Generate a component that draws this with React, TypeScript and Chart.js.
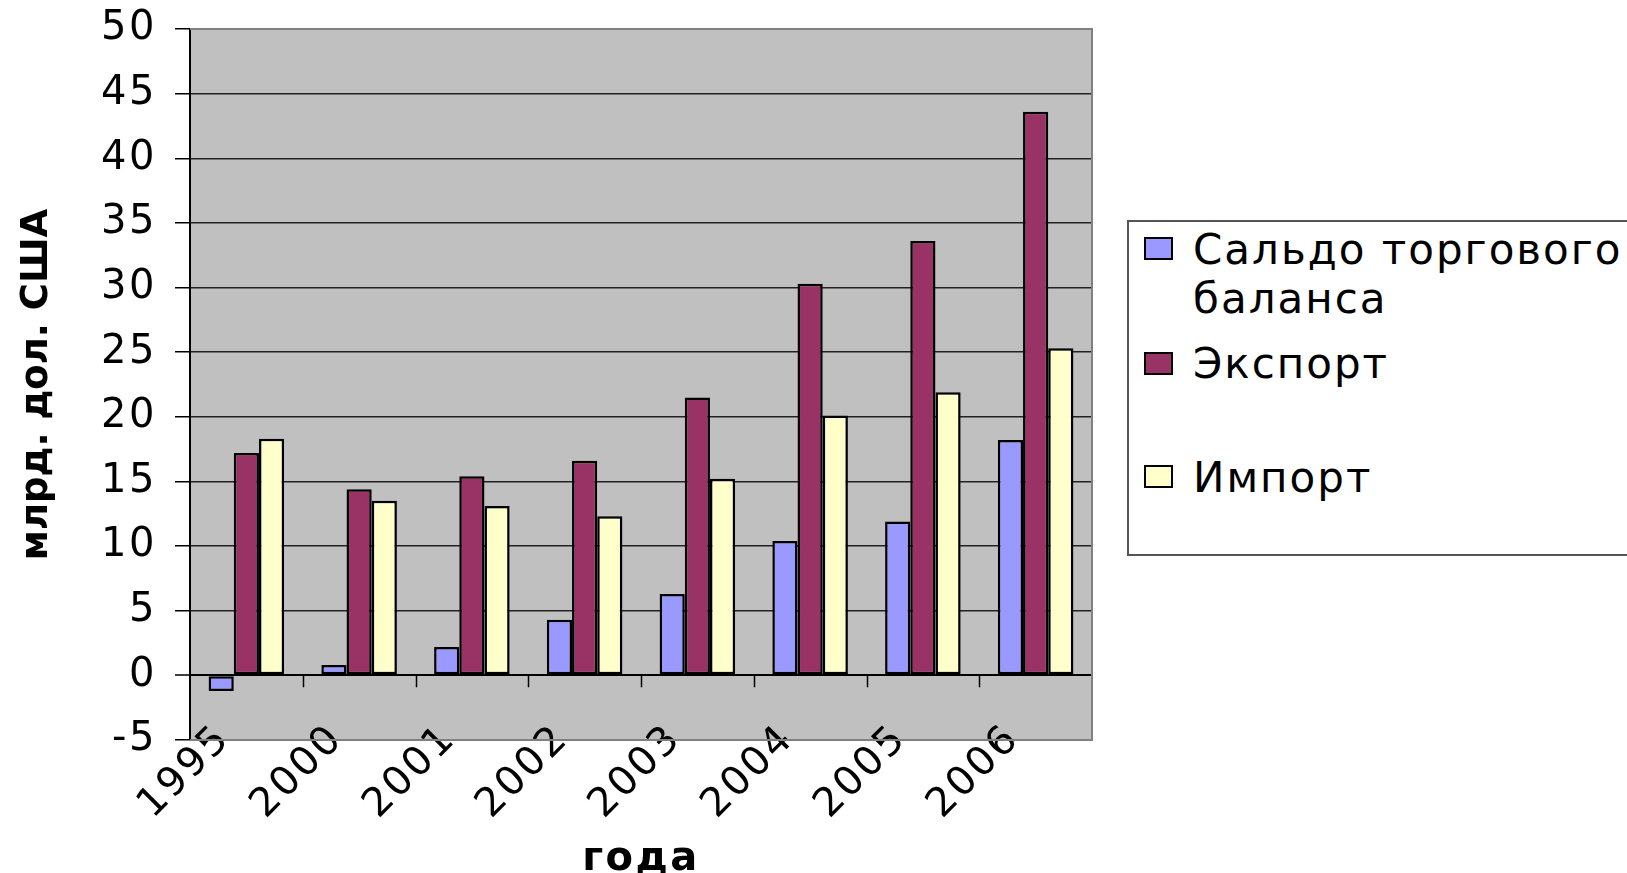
import React, { useEffect, useRef } from "react";
import { Chart, registerables } from "chart.js";

Chart.register(...registerables);

const categories = ["1995", "2000", "2001", "2002", "2003", "2004", "2005", "2006"];
const saldo = [-1.2, 0.8, 2.2, 4.3, 6.3, 10.4, 11.9, 18.2];
const exportVals = [17.2, 14.4, 15.4, 16.6, 21.5, 30.3, 33.6, 43.6];
const importVals = [18.3, 13.5, 13.1, 12.3, 15.2, 20.1, 21.9, 25.3];
const seriesNames = ["Сальдо торгового баланса", "Экспорт", "Импорт"];
const seriesColors = ["#9999FF", "#993366", "#FFFFCC"];
const yMin = -5;
const yMax = 50;
const yStep = 5;
const yTitle = "млрд. дол. США";
const xTitle = "года";

const FONT = "'DejaVu Sans', Verdana, sans-serif";
const SPACING = "2.5px";

const spacingPlugin = {
  id: "spacing",
  beforeUpdate(chart: any) {
    chart.ctx.letterSpacing = SPACING;
  },
  beforeLayout(chart: any) {
    chart.ctx.letterSpacing = SPACING;
  },
  beforeDraw(chart: any) {
    chart.ctx.letterSpacing = SPACING;
  },
};

const plotPlugin = {
  id: "plotBg",
  beforeDraw(chart: any) {
    const { ctx, chartArea: a } = chart;
    ctx.save();
    ctx.fillStyle = "#C0C0C0";
    ctx.fillRect(a.left, a.top, a.right - a.left, a.bottom - a.top);
    ctx.restore();
  },
  beforeDatasetsDraw(chart: any) {
    const { ctx, chartArea: a, scales } = chart;
    ctx.save();
    ctx.strokeStyle = "#808080";
    ctx.lineWidth = 2;
    ctx.beginPath();
    ctx.moveTo(a.left, a.top);
    ctx.lineTo(a.right, a.top);
    ctx.lineTo(a.right, a.bottom);
    ctx.lineTo(a.left, a.bottom);
    ctx.stroke();
    const xs = scales.x;
    const y0 = scales.y.getPixelForValue(0);
    ctx.strokeStyle = "#000";
    ctx.lineWidth = 1.5;
    ctx.beginPath();
    for (let i = 1; i < categories.length; i++) {
      const px = Math.round(xs.getPixelForValue(i - 0.5)) + 0.5;
      ctx.moveTo(px, y0);
      ctx.lineTo(px, y0 + 12);
    }
    ctx.stroke();
    ctx.restore();
  },
};

function ChartView() {
  const ref = useRef<HTMLCanvasElement | null>(null);
  useEffect(() => {
    if (!ref.current) return;
    const values = [saldo, exportVals, importVals];
    const chart = new Chart(ref.current, {
      type: "bar",
      data: {
        labels: categories,
        datasets: seriesNames.map((name, i) => ({
          label: name,
          data: values[i],
          backgroundColor: seriesColors[i],
          borderColor: "#000",
          borderWidth: 2.5,
          borderSkipped: false,
          categoryPercentage: 0.67,
          barPercentage: 1,
        })),
      },
      options: {
        animation: false,
        responsive: false,
        maintainAspectRatio: false,
        devicePixelRatio: 1,
        layout: { padding: { left: 0, right: 535, top: 29, bottom: 0 } },
        plugins: {
          legend: { display: false },
          tooltip: { enabled: false },
        },
        scales: {
          x: {
            grid: { display: false },
            border: { display: false },
            ticks: {
              font: { family: FONT, size: 40 },
              color: "#000",
              minRotation: 45,
              maxRotation: 45,
              padding: -32,
              labelOffset: -22,
              autoSkip: false,
            },
            title: {
              display: true,
              text: xTitle,
              color: "#000",
              font: { family: FONT, size: 40, weight: "bold", lineHeight: 0.5 },
              padding: { top: 0, bottom: 3 },
            },
            afterFit(scale: any) {
              scale.height = 133;
              scale.paddingLeft = 0;
              scale.paddingRight = 0;
              scale._computeLabelArea = () => undefined;
            },
          },
          y: {
            min: yMin,
            max: yMax,
            ticks: {
              stepSize: yStep,
              font: { family: FONT, size: 40 },
              color: "#000",
              padding: 18,
            },
            grid: {
              color: (c: any) => {
                const v = c.tick ? c.tick.value : 0;
                if (v === 0) return "#000";
                if (v === yMax || v === yMin) return "#808080";
                return "#222";
              },
              lineWidth: (c: any) => (c.tick && c.tick.value === 0 ? 2 : 1.5),
              tickLength: 15,
              tickColor: "#000",
              tickWidth: 1.5,
            },
            border: { color: "#000", width: 2 },
            title: {
              display: true,
              text: yTitle,
              color: "#000",
              font: { family: FONT, size: 37, weight: "bold", lineHeight: 1.2 },
              padding: { top: 15, bottom: 0 },
            },
            afterFit(scale: any) {
              scale.width = 190;
              scale.paddingTop = 0;
              scale.paddingBottom = 0;
              if (!scale.__wrappedTitle) {
                const orig = scale.drawTitle.bind(scale);
                scale.drawTitle = (...args: any[]) => {
                  const ctx = scale.ctx;
                  const prev = ctx.letterSpacing;
                  ctx.letterSpacing = "0px";
                  orig(...args);
                  ctx.letterSpacing = prev;
                };
                scale.__wrappedTitle = true;
              }
            },
          },
        },
      },
      plugins: [spacingPlugin, plotPlugin],
    } as any);
    return () => chart.destroy();
  }, []);
  return <canvas ref={ref} width={1627} height={873} style={{ position: "absolute", left: 0, top: 0 }} />;
}

const BOX_LEFT = 1127;
const BOX_TOP = 220;
const legendTops = [225, 339, 453];
const swatchTops = [237, 352, 465];

function Legend() {
  return (
    <div
      style={{
        position: "absolute",
        left: BOX_LEFT,
        top: BOX_TOP,
        width: 520,
        height: 336,
        border: "2px solid #555",
        background: "#fff",
        boxSizing: "border-box",
      }}
    >
      {seriesNames.map((name, i) => (
        <React.Fragment key={name}>
          <div
            style={{
              position: "absolute",
              left: 1144 - BOX_LEFT - 2,
              top: swatchTops[i] - BOX_TOP - 2,
              width: 29,
              height: 23,
              background: seriesColors[i],
              border: "2px solid #000",
              boxSizing: "border-box",
            }}
          />
          <div
            style={{
              position: "absolute",
              left: 1193 - BOX_LEFT - 2,
              top: legendTops[i] - BOX_TOP - 2,
              width: 470,
              fontFamily: FONT,
              fontSize: 42,
              lineHeight: "49px",
              letterSpacing: "2px",
              color: "#000",
              whiteSpace: "normal",
            }}
          >
            {name}
          </div>
        </React.Fragment>
      ))}
    </div>
  );
}

export default function App() {
  return (
    <div
      style={{
        position: "absolute",
        left: 0,
        top: 0,
        width: 1627,
        height: 873,
        background: "#fff",
        overflow: "hidden",
      }}
    >
      <ChartView />
      <Legend />
    </div>
  );
}
